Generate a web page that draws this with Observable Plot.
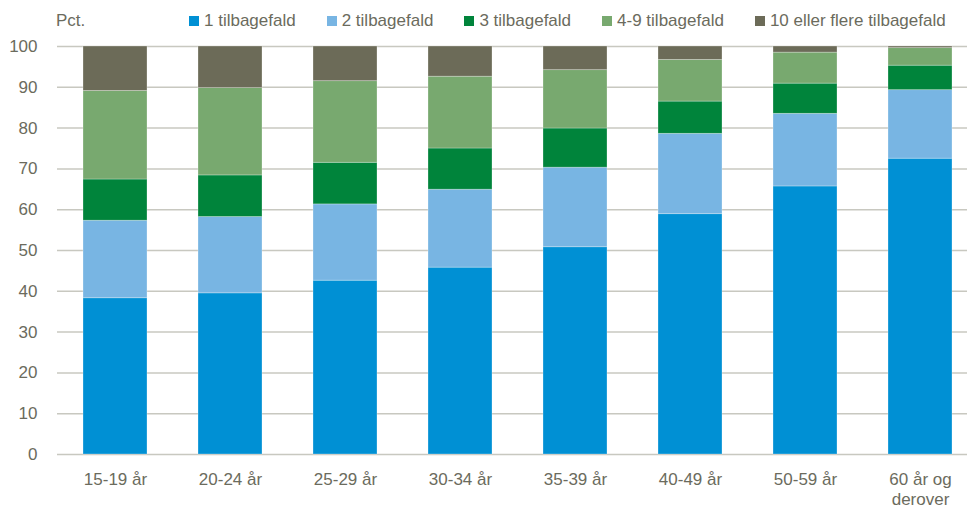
<!DOCTYPE html>
<html>
<head>
<meta charset="utf-8">
<script src="https://cdn.jsdelivr.net/npm/d3@7"></script>
<script src="https://cdn.jsdelivr.net/npm/@observablehq/plot@0.6"></script>
<style>
  html, body { margin: 0; padding: 0; background: #fff; }
  body { width: 967px; height: 512px; overflow: hidden; font-family: "Liberation Sans", Arial, sans-serif; color: #6b6b5d; }
  #legend { position: relative; height: 34px; font-size: 17px; }
  #legend .pct { position: absolute; left: 56px; top: 11px; }
  #legend .items { position: absolute; left: 189px; top: 11px; display: flex; gap: 31px; }
  #legend .item { display: flex; align-items: center; white-space: nowrap; }
  #legend .sw { width: 10px; height: 10px; margin-right: 5px; }
  #chart svg { display: block; }
</style>
</head>
<body>
<div id="legend"><span class="pct" id="ylabel"></span><div class="items" id="items"></div></div>
<div id="chart"></div>
<script>
const yLabel = "Pct.";
const categories = ["15-19 år","20-24 år","25-29 år","30-34 år","35-39 år","40-49 år","50-59 år","60 år og derover"];
const categoryLabels = ["15-19 år","20-24 år","25-29 år","30-34 år","35-39 år","40-49 år","50-59 år","60 år og\nderover"];
const series = ["1 tilbagefald","2 tilbagefald","3 tilbagefald","4-9 tilbagefald","10 eller flere tilbagefald"];
const colors = ["#0090d4","#78b5e3","#00843b","#78a96f","#6c6b58"];
const v1  = [38.3, 39.5, 42.6, 45.8, 50.8, 58.9, 65.7, 72.5];
const v2  = [19.0, 18.7, 18.7, 19.1, 19.5, 19.7, 17.8, 16.8];
const v3  = [10.1, 10.2, 10.2, 10.1,  9.6,  7.9,  7.4,  6.0];
const v49 = [21.7, 21.4, 20.0, 17.6, 14.3, 10.2,  7.6,  4.3];
const v10 = [10.9, 10.2,  8.5,  7.4,  5.8,  3.3,  1.5,  0.4];
const yTicks = [0,10,20,30,40,50,60,70,80,90,100];

const seriesValues = [v1, v2, v3, v49, v10];
const data = [];
series.forEach((s, si) => categories.forEach((c, ci) => data.push({cat: c, series: s, value: seriesValues[si][ci]})));

document.getElementById("ylabel").textContent = yLabel;
const items = document.getElementById("items");
series.forEach((s, i) => {
  const it = document.createElement("div"); it.className = "item";
  const sw = document.createElement("span"); sw.className = "sw"; sw.style.background = colors[i];
  const tx = document.createElement("span"); tx.textContent = s;
  it.appendChild(sw); it.appendChild(tx); items.appendChild(it);
});

const labelOf = new Map(categories.map((c, i) => [c, categoryLabels[i]]));

const chart = Plot.plot({
  width: 967,
  height: 478,
  marginLeft: 57,
  marginRight: 0,
  marginTop: 12,
  marginBottom: 58,
  style: {fontFamily: '"Liberation Sans", Arial, sans-serif', fontSize: "17px", color: "#6b6b5d", background: "#fff"},
  x: {type: "band", domain: categories, range: [57, 977], paddingInner: 0.446, paddingOuter: 0.223, label: null},
  y: {domain: [0, 100], label: null},
  color: {domain: series, range: colors},
  marks: [
    Plot.ruleY(yTicks, {stroke: "#c8c8c0", strokeWidth: 1.5}),
    Plot.barY(data, {x: "cat", y: "value", fill: "series", stroke: "#ffffff", strokeOpacity: 0.35, strokeWidth: 0.8}),
    Plot.axisY({ticks: yTicks, tickSize: 0, tickPadding: 20, fontSize: 17, fill: "#6b6b5d", label: null}),
    Plot.axisX({tickSize: 0, tickPadding: 16, fontSize: 17, fill: "#6b6b5d", lineHeight: 1.2, tickFormat: d => labelOf.get(d), label: null})
  ]
});
document.getElementById("chart").appendChild(chart);
</script>
</body>
</html>
